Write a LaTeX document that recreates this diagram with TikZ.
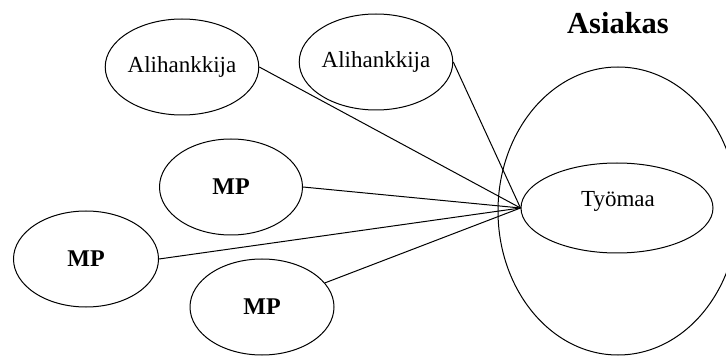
\documentclass[tikz,border=0pt]{standalone}
\usepackage{fontspec}
\setmainfont{Liberation Serif}
\usetikzlibrary{shapes.geometric}
\begin{document}
\begin{tikzpicture}[x=1pt,y=-1pt,
  bubble/.style={draw, ellipse, line width=1pt, inner sep=0pt,
    minimum width=145pt, minimum height=96pt,
    font=\fontsize{23}{26}\selectfont},
  mpbubble/.style={bubble, font=\fontsize{24}{27}\selectfont\bfseries},
  link/.style={line width=1pt}]
  \useasboundingbox (0,0) rectangle (726,358);
  \clip (0,0) rectangle (726,358);

  % customer area
  \draw[line width=1pt] (618,211) ellipse [x radius=120pt, y radius=144pt];
  \node[font=\fontsize{30.5}{33}\selectfont\bfseries] (asiakas) at (618,23) {Asiakas};

  % site
  \node[bubble, minimum width=192pt, minimum height=90pt] (tyo) at (617,208) {};
  \node[font=\fontsize{23}{26}\selectfont] (tyolabel) at (618,201) {Työmaa};

  % subcontractors and suppliers
  \node[bubble] (ali1) at (182,67) {Alihankkija};
  \node[bubble, minimum width=147pt] (ali2) at (376,62) {Alihankkija};
  \node[mpbubble, minimum width=143pt] (mp1) at (231,187) {MP};
  \node[mpbubble] (mp2) at (86,259) {MP};
  \node[mpbubble, minimum width=144pt] (mp3) at (262,307) {MP};

  % connections to the site
  \draw[link] (ali1.east) -- (tyo.west);
  \draw[link] (ali2.east) -- (tyo.west);
  \draw[link] (mp1.east) -- (tyo.west);
  \draw[link] (mp2.east) -- (tyo.west);
  \draw[link] (mp3) -- (tyo.west);
\end{tikzpicture}
\end{document}
